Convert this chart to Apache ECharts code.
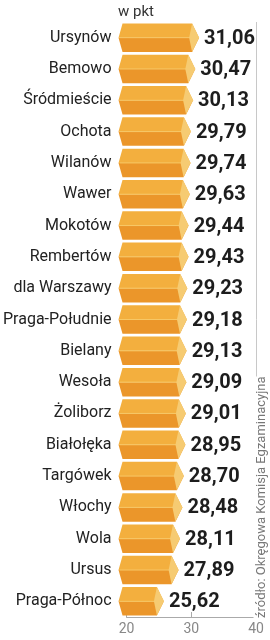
<!DOCTYPE html>
<html>
<head>
<meta charset="utf-8">
<script src="https://cdn.jsdelivr.net/npm/echarts@6/dist/echarts.min.js"></script>
<style>
  html, body { margin: 0; padding: 0; background: #fff; }
  #chart { width: 270px; height: 640px; }
</style>
</head>
<body>
<div id="chart"></div>
<script>
const districts = [
  'Ursynów', 'Bemowo', 'Śródmieście', 'Ochota', 'Wilanów', 'Wawer', 'Mokotów',
  'Rembertów', 'dla Warszawy', 'Praga-Południe', 'Bielany', 'Wesoła', 'Żoliborz',
  'Białołęka', 'Targówek', 'Włochy', 'Wola', 'Ursus', 'Praga-Północ'
];
const scores = [
  31.06, 30.47, 30.13, 29.79, 29.74, 29.63, 29.44,
  29.43, 29.23, 29.18, 29.13, 29.09, 29.01,
  28.95, 28.70, 28.48, 28.11, 27.89, 25.62
];
const xTicks = [20, 30, 40];
const unitLabel = 'w pkt';
const sourceLabel = 'źródło: Okręgowa Komisja Egzaminacyjna';

const chart = echarts.init(document.getElementById('chart'));

const fmt = (v) => v.toFixed(2).replace('.', ',');

function renderBar(params, api) {
  const v = api.value(0);
  const cat = api.value(1);
  const end = api.coord([v, cat]);
  const start = api.coord([xTicks[0], cat]);
  const h = api.size([0, 1])[1] * 0.91;
  const y = end[1];
  const top = y - h / 2;
  const bot = y + h / 2;
  const tip = end[0] + 1;
  const xe = tip - 7;
  const x0 = start[0] - 8;
  const x1 = x0 + 4;
  return {
    type: 'group',
    children: [
      { type: 'polygon', shape: { points: [[x0, y], [x1, top], [xe, top], [tip, y]] },
        style: { fill: '#f3af3e' } },
      { type: 'polygon', shape: { points: [[x0, y], [tip, y], [xe, bot], [x1, bot]] },
        style: { fill: '#eb962a' } },
      { type: 'line', shape: { x1: x0 + 1, y1: y, x2: xe, y2: y },
        style: { stroke: '#f7c866', lineWidth: 1 } },
      { type: 'polygon', shape: { points: [[xe, top], [tip, y], [xe, bot], [xe - 3, y]] },
        style: { fill: '#f6cb72' } },
      { type: 'text', style: {
          text: fmt(v), x: tip + 5, y: y + 1, verticalAlign: 'middle', align: 'left',
          font: 'bold 20px Roboto', fill: '#1d1d1d'
        } }
    ]
  };
}

chart.setOption({
  animation: false,
  title: {
    text: unitLabel, left: 113, top: 0,
    textStyle: { fontFamily: 'Roboto', fontSize: 15, fontWeight: 'normal', color: '#333' }
  },
  grid: { left: 125, right: 14, top: 22, bottom: 23 },
  xAxis: {
    type: 'value',
    min: 20,
    max: 40,
    interval: 10,
    axisLine: { show: true, lineStyle: { color: '#aaa' } },
    axisTick: { show: true, inside: true, length: 5, lineStyle: { color: '#aaa' } },
    axisLabel: { color: '#888', fontFamily: 'Roboto', fontSize: 14, margin: 5 },
    splitLine: { show: false }
  },
  yAxis: {
    type: 'category',
    data: districts,
    inverse: true,
    axisLine: { show: false },
    axisTick: { show: false },
    axisLabel: { color: '#222', fontFamily: 'Roboto', fontSize: 16, margin: 15 }
  },
  series: [{
    type: 'custom',
    clip: false,
    renderItem: renderBar,
    encode: { x: 0, y: 1 },
    data: scores.map((s, i) => [s, i]),
    markLine: {
      silent: true,
      symbol: 'none',
      label: { show: false },
      lineStyle: { color: '#c8c8c8', type: 'solid', width: 1 },
      data: [{ xAxis: 40 }]
    }
  }],
  graphic: [{
    type: 'text',
    x: 262,
    y: 618,
    rotation: Math.PI / 2,
    z: 100,
    style: {
      text: sourceLabel, font: '13px Roboto', fill: '#777',
      align: 'left', verticalAlign: 'middle',
      backgroundColor: '#fff', padding: [4, 0, 0, 0]
    }
  }]
});
</script>
</body>
</html>
